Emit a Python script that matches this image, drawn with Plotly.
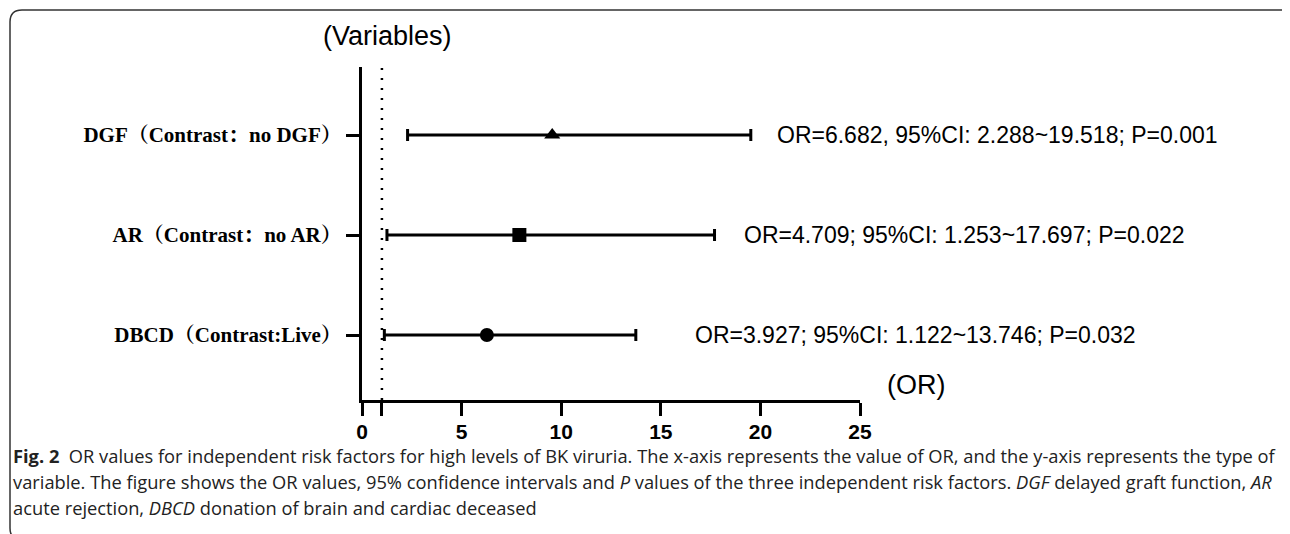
import plotly.graph_objects as go

# ---------------- data ----------------
categories = ["DGF（Contrast：no DGF）", "AR（Contrast：no AR）", "DBCD（Contrast:Live）"]
cat_pos = [3, 2, 1]
marker_x = [9.55, 7.9, 6.27]          # point positions
ci_low = [2.288, 1.253, 1.122]
ci_high = [19.518, 17.697, 13.746]
or_values = ["6.682", "4.709", "3.927"]
p_values = ["0.001", "0.022", "0.032"]
or_sep = [",", ";", ";"]
symbols = ["triangle-up", "square", "circle"]
label_x = [20.74, 19.07, 16.6]
x_ticks = [0, 1, 5, 10, 15, 20, 25]
x_ticktext = ["0", "", "5", "10", "15", "20", "25"]
ref_line = 1

caption_lines = [
    "<b>Fig. 2</b>  OR values for independent risk factors for high levels of BK viruria. The x-axis represents the value of OR, and the y-axis represents the type of",
    "variable. The figure shows the OR values, 95% confidence intervals and <i>P</i> values of the three independent risk factors. <i>DGF</i> delayed graft function, <i>AR</i>",
    "acute rejection, <i>DBCD</i> donation of brain and cardiac deceased",
]

# ---------------- layout geometry ----------------
W, H = 1290, 534
OFF = 8                      # page body margin
ML, MT = 362 - OFF, 67 - OFF
PW, PH = 498, 333
MR, MB = W - ML - PW, H - MT - PH


def px(x):
    return (x - OFF - ML) / PW


def py(y):
    return 1 - (y - OFF - MT) / PH


fig = go.Figure()

for i in range(len(categories)):
    fig.add_trace(go.Scatter(
        x=[marker_x[i]], y=[cat_pos[i]], mode="markers",
        marker=dict(symbol=symbols[i], size=14, color="black", line=dict(width=0)),
        error_x=dict(type="data", symmetric=False,
                     array=[ci_high[i] - marker_x[i]],
                     arrayminus=[marker_x[i] - ci_low[i]],
                     color="black", thickness=3, width=6),
        showlegend=False, cliponaxis=False,
    ))
    fig.add_annotation(
        x=label_x[i], y=cat_pos[i], xref="x", yref="y", xanchor="left", yanchor="middle",
        text=f"OR={or_values[i]}{or_sep[i]} 95%CI: {ci_low[i]:.3f}~{ci_high[i]:.3f}; P={p_values[i]}",
        showarrow=False, font=dict(family="Liberation Sans, Arial", size=23, color="black"),
    )

# dotted reference line
fig.add_shape(type="line", xref="x", yref="paper", x0=ref_line, x1=ref_line, y0=0, y1=1,
              line=dict(color="black", width=2.5, dash="2px,8px"))

fig.update_xaxes(range=[0, 25], showline=True, linewidth=3, linecolor="black",
                 ticks="outside", ticklen=13, tickwidth=3, tickcolor="black",
                 tickvals=x_ticks, ticktext=x_ticktext, showgrid=False, zeroline=False,
                 ticklabelstandoff=-2,
                 tickfont=dict(family="Liberation Sans, Arial", size=21, color="black", weight="bold"))
fig.update_yaxes(range=[0.35, 3.68], showline=True, linewidth=3, linecolor="black",
                 ticks="outside", ticklen=13, tickwidth=3, tickcolor="black",
                 tickvals=cat_pos, ticktext=categories, showgrid=False, zeroline=False,
                 tickfont=dict(family="Liberation Serif, Times New Roman, Noto Serif CJK SC", size=21,
                               color="black", weight="bold"))

# axis titles
fig.add_annotation(x=px(387), y=py(36), xref="paper", yref="paper", text="(Variables)",
                   xanchor="center", yanchor="middle",
                   showarrow=False, font=dict(family="Liberation Sans, Arial", size=27, color="black"))
fig.add_annotation(x=px(916), y=py(385), xref="paper", yref="paper", text="(OR)",
                   xanchor="center", yanchor="middle",
                   showarrow=False, font=dict(family="Liberation Sans, Arial", size=27, color="black"))

# caption
cap_y = [455, 481, 507]
for t, yy in zip(caption_lines, cap_y):
    fig.add_annotation(x=px(12), y=py(yy), xref="paper", yref="paper", xanchor="left", yanchor="middle",
                       text=t, showarrow=False, align="left", borderpad=0,
                       font=dict(family="Open Sans", size=18.3, color="#222222"))

# rounded frame
r = 12
x0, y0, x1, y1 = 10, 10, 1310, 540
path = (f"M {px(x1)},{py(y0)} L {px(x0 + r)},{py(y0)} Q {px(x0)},{py(y0)} {px(x0)},{py(y0 + r)} "
        f"L {px(x0)},{py(y1 - r)} Q {px(x0)},{py(y1)} {px(x0 + r)},{py(y1)} L {px(x1)},{py(y1)}")
fig.add_shape(type="path", xref="paper", yref="paper", path=path,
              line=dict(color="#333333", width=1.5))

fig.update_layout(width=W, height=H, margin=dict(l=ML, r=MR, t=MT, b=MB),
                  plot_bgcolor="white", paper_bgcolor="white")

fig.write_html("out.html")
